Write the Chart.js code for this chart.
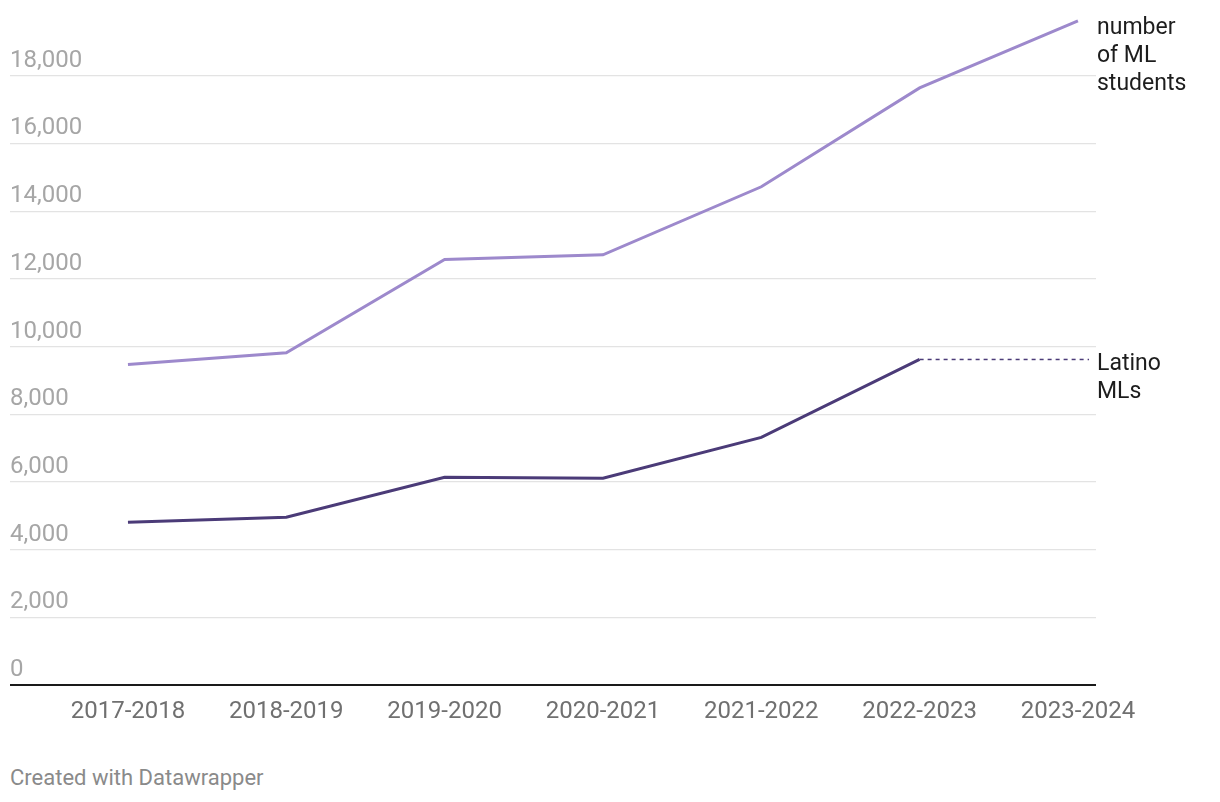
<!DOCTYPE html>
<html>
<head>
<meta charset="utf-8">
<script src="https://cdn.jsdelivr.net/npm/chart.js@4"></script>
<style>
  html, body { margin: 0; padding: 0; background: #fff; }
  #wrap { position: relative; width: 1220px; height: 738px; }
  #foot { position: absolute; left: 10px; top: 765px; font: 22px Roboto, sans-serif; color: #8a8a8a; }
</style>
</head>
<body>
<div id="wrap"><canvas id="chart"></canvas></div>
<div id="foot">Created with Datawrapper</div>
<script>
const years = ["2017-2018", "2018-2019", "2019-2020", "2020-2021", "2021-2022", "2022-2023", "2023-2024"];
const mlStudents = [9470, 9820, 12570, 12710, 14720, 17640, 19620];
const latinoMLs = [4810, 4960, 6140, 6110, 7320, 9620, null];
const yTicks = [0, 2000, 4000, 6000, 8000, 10000, 12000, 14000, 16000, 18000];

const lastLatino = latinoMLs.filter(v => v !== null).pop();
const lastIdx = latinoMLs.lastIndexOf(lastLatino);

const labelsPlugin = {
  id: "labels",
  afterDraw(chart) {
    const ctx = chart.ctx;
    const y = chart.scales.y;
    const area = chart.chartArea;
    ctx.save();
    ctx.font = "24px Roboto";
    ctx.fillStyle = "#a6a6a6";
    ctx.textAlign = "left";
    ctx.textBaseline = "alphabetic";
    yTicks.forEach(v => {
      ctx.fillText(v.toLocaleString("en-US"), area.left, y.getPixelForValue(v) - 9);
    });
    ctx.font = "23px Roboto";
    ctx.fillStyle = "#1d1d1d";
    ctx.textBaseline = "middle";
    const lx = area.right + 1;
    const y1 = y.getPixelForValue(mlStudents[mlStudents.length - 1]) + 7;
    ["number", "of ML", "students"].forEach((t, i) => ctx.fillText(t, lx, y1 + i * 28));
    const y2 = y.getPixelForValue(lastLatino) + 5;
    ["Latino", "MLs"].forEach((t, i) => ctx.fillText(t, lx, y2 + i * 28));
    ctx.restore();
  }
};

new Chart(document.getElementById("chart"), {
  type: "line",
  data: {
    datasets: [
      {
        label: "number of ML students",
        data: mlStudents.map((v, i) => ({ x: i, y: v })),
        borderColor: "#9d89cc",
        borderWidth: 3,
        pointRadius: 0,
        tension: 0,
      },
      {
        label: "Latino MLs",
        data: latinoMLs.map((v, i) => ({ x: i, y: v })),
        borderColor: "#4b3b78",
        borderWidth: 3,
        pointRadius: 0,
        tension: 0,
      },
      {
        label: "Latino MLs guide",
        data: [{ x: lastIdx, y: lastLatino }, { x: 6.07, y: lastLatino }],
        borderColor: "#4b3b78",
        borderWidth: 1.5,
        borderDash: [4, 4],
        pointRadius: 0,
      },
    ],
  },
  options: {
    responsive: true,
    maintainAspectRatio: false,
    animation: false,
    layout: { padding: { left: 10, right: 124, top: 8, bottom: 0 } },
    plugins: { legend: { display: false }, tooltip: { enabled: false } },
    scales: {
      x: {
        type: "linear",
        min: -0.745,
        max: 6.114,
        afterBuildTicks: (scale) => { scale.ticks = years.map((_, i) => ({ value: i })); },
        grid: { display: false, drawTicks: false },
        border: { display: false },
        ticks: {
          padding: 12,
          color: "#707070",
          font: { family: "Roboto", size: 24 },
          maxRotation: 0,
          autoSkip: false,
          callback: (v) => years[v],
        },
      },
      y: {
        min: 0,
        max: 20000,
        afterBuildTicks: (scale) => { scale.ticks = yTicks.concat([20000]).map(v => ({ value: v })); },
        border: { display: false },
        ticks: { display: false },
        grid: {
          drawTicks: false,
          color: (c) => c.tick.value === 0 ? "#1a1a1a" : (c.tick.value === 20000 ? "rgba(0,0,0,0)" : "#e3e3e3"),
          lineWidth: (c) => c.tick.value === 0 ? 2 : 1.3,
        },
      },
    },
  },
  plugins: [labelsPlugin],
});
</script>
</body>
</html>
